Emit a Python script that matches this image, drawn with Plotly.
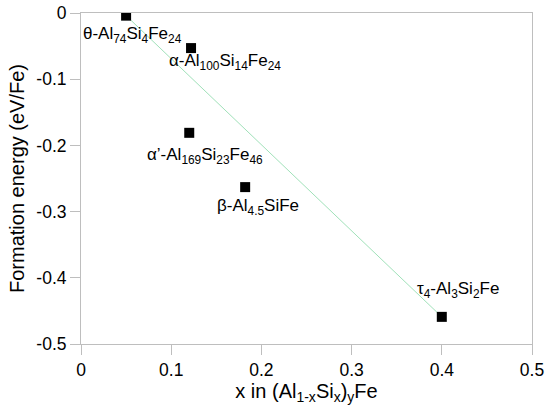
import plotly.graph_objects as go

# x in (Al1-xSix)yFe, formation energy in eV/Fe
phases = ['θ', 'α', "α'", 'β', 'τ4']
x_vals = [0.05, 0.122, 0.12, 0.182, 0.40]
e_vals = [-0.004, -0.053, -0.181, -0.263, -0.459]
labels = [
    'θ-Al<sub>74</sub>Si<sub>4</sub>Fe<sub>24</sub>',
    'α-Al<sub>100</sub>Si<sub>14</sub>Fe<sub>24</sub>',
    'α’-Al<sub>169</sub>Si<sub>23</sub>Fe<sub>46</sub>',
    'β-Al<sub>4.5</sub>SiFe',
    'τ<sub>4</sub>-Al<sub>3</sub>Si<sub>2</sub>Fe',
]
# convex hull: θ -> τ4
hull = ['θ', 'τ4']

x_ticks = [0, 0.1, 0.2, 0.3, 0.4, 0.5]
y_ticks = [0, -0.1, -0.2, -0.3, -0.4, -0.5]

# label offsets from the marker, in pixels
label_shift = [(6, -19), (34, -14), (16, -23), (13, -20), (16, 27)]

font_ = 'Liberation Sans, Arial, sans-serif'

fig = go.Figure()

hx = [x_vals[phases.index(p)] for p in hull]
hy = [e_vals[phases.index(p)] for p in hull]
fig.add_trace(go.Scatter(x=hx, y=hy, mode='lines',
                         line=dict(color='rgb(160,225,185)', width=1),
                         hoverinfo='skip'))

fig.add_trace(go.Scatter(x=x_vals, y=e_vals, mode='markers',
                         marker=dict(symbol='square', size=10, color='black'),
                         text=phases))

annotations = []
for x, y, lab, (dx, dy) in zip(x_vals, e_vals, labels, label_shift):
    annotations.append(dict(x=x, y=y, text=lab, showarrow=False,
                            xshift=dx, yshift=dy,
                            xanchor='center', yanchor='middle',
                            font=dict(family=font_, size=17, color='black')))

axis_ = dict(
    showline=True,
    linecolor='rgb(190,190,190)',
    linewidth=1,
    mirror=True,
    showgrid=False,
    zeroline=False,
    ticks='outside',
    ticklen=10,
    tickcolor='rgb(190,190,190)',
    tickfont=dict(family=font_, size=17.5, color='black'),
)

fig.update_layout(
    width=550,
    height=416,
    autosize=False,
    margin=dict(l=81, r=18, t=13, b=72, autoexpand=False),
    plot_bgcolor='white',
    paper_bgcolor='white',
    showlegend=False,
    annotations=annotations,
    xaxis=dict(axis_, range=[0, 0.5], tickvals=x_ticks,
               ticktext=[f'{v:g}' for v in x_ticks],
               title=dict(text='x in (Al<sub>1-x</sub>Si<sub>x</sub>)<sub>y</sub>Fe',
                          font=dict(family=font_, size=20, color='black'),
                          standoff=4)),
    yaxis=dict(axis_, range=[-0.5, 0], tickvals=y_ticks,
               ticktext=[f'{v:g}' for v in y_ticks],
               title=dict(text='Formation energy (eV/Fe)',
                          font=dict(family=font_, size=20, color='black'),
                          standoff=6)),
)

# drop the browser's default body margin so the figure sits at the page corner
fig.write_html('out.html', config={'displayModeBar': False},
               post_script="document.body.style.margin='0';")
